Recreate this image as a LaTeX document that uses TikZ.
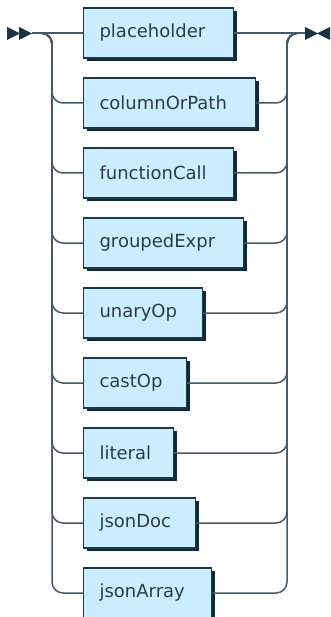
\documentclass[tikz,border=0pt]{standalone}
\usepackage{fontspec}
\setmainfont{DejaVu Sans}
\usetikzlibrary{shadows}
\definecolor{boxfill}{HTML}{CAEDFF}
\definecolor{boxdraw}{HTML}{1C3A4C}
\definecolor{shadowc}{HTML}{0E2A3A}
\definecolor{linec}{HTML}{46596A}
\definecolor{textc}{HTML}{2F3B44}
\definecolor{markc}{HTML}{1A3344}
\tikzset{
  rbox/.style={draw=boxdraw, line width=1.1pt, fill=boxfill, anchor=west,
    minimum height=50pt, inner xsep=16pt, inner ysep=0pt, align=left,
    font=\fontsize{18}{20}\selectfont, text=textc,
    drop shadow={shadow xshift=3pt, shadow yshift=-3pt, opacity=1, fill=shadowc}},
  rail/.style={draw=linec, line width=1.5pt, rounded corners=11pt},
  railmark/.style={fill=markc, draw=none}
}
\begin{document}
\begin{tikzpicture}[x=1pt, y=-1pt]
\useasboundingbox (0,0) rectangle (330,617);
\def\boxes{placeholder/150/0, columnOrPath/172/1, functionCall/150/2, groupedExpr/160/3, unaryOp/119/4, castOp/103/5, literal/90/6, jsonDoc/112/7, jsonArray/128/8}
\coordinate (start) at (32,33);
\coordinate (end) at (306,33);
\foreach \t/\w/\k in \boxes {
  \pgfmathsetmacro{\yy}{33+70*\k}
  \pgfmathsetmacro{\tw}{\w-32}
  \node[rbox, minimum width=\w pt, text width=\tw pt] (b\k) at (83,\yy) {\t};
}
% left branches
\draw[rail] (start) -- (b0.west);
\foreach \k in {1,...,8} {
  \draw[rail] (start) -- (52,33) |- (b\k.west);
}
% right branches
\draw[rail] (b0.east) -- (end);
\foreach \k in {1,...,8} {
  \draw[rail] (b\k.east) -| (287,33) -- (end);
}
% start marker
\fill[railmark] (7,27) -- (7,40) -- (20,33.5) -- cycle;
\fill[railmark] (19,27) -- (19,40) -- (32,33.5) -- cycle;
% end marker
\fill[railmark] (305,27) -- (305,40) -- (318,33.5) -- cycle;
\fill[railmark] (330,27) -- (330,40) -- (317,33.5) -- cycle;
\end{tikzpicture}
\end{document}
